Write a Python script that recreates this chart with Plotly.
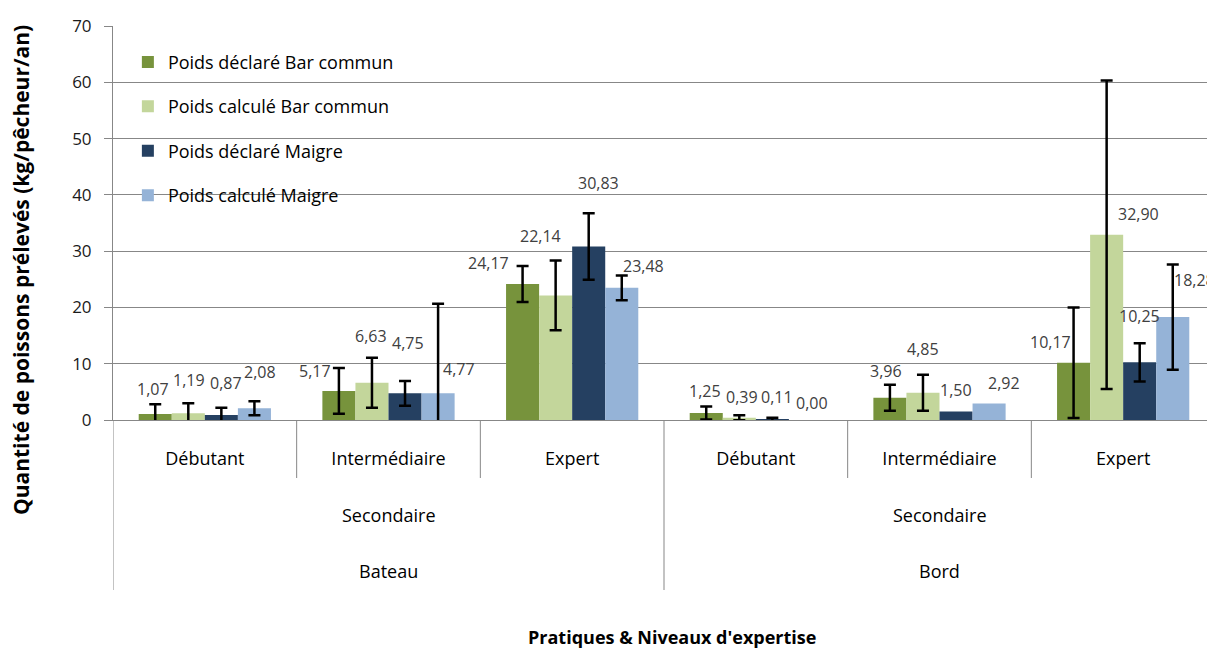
import numpy as np
import plotly.graph_objects as go

# ---------------- data ----------------
categories = ["Bateau|Débutant", "Bateau|Intermédiaire", "Bateau|Expert",
              "Bord|Débutant", "Bord|Intermédiaire", "Bord|Expert"]
level_labels = ["Débutant", "Intermédiaire", "Expert", "Débutant", "Intermédiaire", "Expert"]
sub_labels = ["Secondaire", "Secondaire"]
top_labels = ["Bateau", "Bord"]

series_names = ["Poids déclaré Bar commun", "Poids calculé Bar commun",
                "Poids déclaré Maigre", "Poids calculé Maigre"]
declare_bar = [1.07, 5.17, 24.17, 1.25, 3.96, 10.17]
calcul_bar = [1.19, 6.63, 22.14, 0.39, 4.85, 32.90]
declare_maigre = [0.87, 4.75, 30.83, 0.11, 1.50, 10.25]
calcul_maigre = [2.08, 4.77, 23.48, 0.00, 2.92, 18.28]

err_declare_bar = [1.72, 4.05, 3.2, 1.15, 2.3, 9.8]
err_calcul_bar = [1.8, 4.45, 6.2, 0.45, 3.2, 27.4]
err_declare_maigre = [1.3, 2.2, 5.9, 0.3, np.nan, 3.4]
err_calcul_maigre = [1.25, 15.9, 2.2, np.nan, np.nan, 9.35]

y_title = "Quantité de poissons prélevés (kg/pêcheur/an)"
x_title = "Pratiques & Niveaux d'expertise"

# ---------------- style ----------------
colors = ["#77933C", "#C3D69B", "#254061", "#95B3D7"]
FONT = "'Open Sans', 'Liberation Sans', sans-serif"
GRID = "#878787"
BARGAP = 0.28
# label offsets (pixels) relative to bar top centre, per series / category
label_dx = [[-2, -24, -34, -1, -4, -23],
            [1, -1, -15, 3, 0, 32],
            [5, 3, 10, 5, 0, 0],
            [6, 21, 22, 7, 15, 22]]
label_dy = [[25, 20, 21, 22, 27, 21],
            [33, 47, 59, 21, 44, 21],
            [32, 50, 63, 22, 22, 46],
            [36, 24, 22, 17, 21, 37]]

values = [declare_bar, calcul_bar, declare_maigre, calcul_maigre]
errors = [err_declare_bar, err_calcul_bar, err_declare_maigre, err_calcul_maigre]

fig = go.Figure()
for i, (name, vals, errs) in enumerate(zip(series_names, values, errors)):
    fig.add_trace(go.Bar(
        x=categories, y=vals, name=name, legendgroup=f"g{i}",
        marker=dict(color=colors[i], line=dict(width=0)),
        error_y=dict(type="data", array=np.array(errs, dtype=float), visible=True,
                     color="#000000", thickness=2.5, width=6),
    ))

annotations = []
n = len(series_names)
slot = (1 - BARGAP) / n
for i, vals in enumerate(values):
    for c, v in enumerate(vals):
        annotations.append(dict(
            x=c + (i - (n - 1) / 2) * slot, y=v, xref="x", yref="y",
            text=f"{v:.2f}".replace(".", ","), showarrow=False,
            xshift=label_dx[i][c], yshift=label_dy[i][c],
            font=dict(family=FONT, size=16, color="#404040"),
            xanchor="center", yanchor="middle"))

# page body has an 8px margin; plot area spans page x 113..1215, y 26..420
plot_w = 1102.0
plot_h = 394.0
for k in range(2):
    annotations.append(dict(x=1 + 3 * k, y=-(515 - 420) / plot_h, xref="x", yref="paper",
                            text=sub_labels[k], showarrow=False, yanchor="middle",
                            font=dict(family=FONT, size=18, color="#000000")))
    annotations.append(dict(x=1 + 3 * k, y=-(571 - 420) / plot_h, xref="x", yref="paper",
                            text=top_labels[k], showarrow=False, yanchor="middle",
                            font=dict(family=FONT, size=18, color="#000000")))

annotations.append(dict(x=(672 - 113) / plot_w, y=-(637 - 420) / plot_h, xref="paper", yref="paper",
                        text=f"<b>{x_title}</b>", showarrow=False, yanchor="middle",
                        font=dict(family=FONT, size=18, color="#000000")))
annotations.append(dict(x=-(113 - 21) / plot_w, y=(420 - 270) / plot_h, xref="paper", yref="paper",
                        text=f"<b>{y_title}</b>", showarrow=False, textangle=-90,
                        xanchor="center", yanchor="middle",
                        font=dict(family=FONT, size=21, color="#000000")))

shapes = []
for b in [0.5, 1.5, 3.5, 4.5]:
    shapes.append(dict(type="line", xref="x", yref="paper", x0=b, x1=b, y0=0,
                       y1=-(478 - 420) / plot_h, line=dict(color=GRID, width=1)))
for b in [-0.5, 2.5, 5.5]:
    shapes.append(dict(type="line", xref="x", yref="paper", x0=b, x1=b, y0=0,
                       y1=-(590 - 420) / plot_h, line=dict(color=GRID, width=1)))

fig.update_layout(
    width=1207, height=640,
    margin=dict(l=105, r=0, t=18, b=228, autoexpand=False),
    paper_bgcolor="white", plot_bgcolor="white",
    barmode="group", bargap=BARGAP, bargroupgap=0,
    font=dict(family=FONT, color="#000000"),
    showlegend=True,
    legend=dict(x=0.0135, y=0.955, xanchor="left", yanchor="top",
                bgcolor="rgba(0,0,0,0)", tracegroupgap=18,
                font=dict(family=FONT, size=18, color="#000000")),
    annotations=annotations, shapes=shapes,
)
fig.update_xaxes(
    type="category", tickmode="array", tickvals=categories, ticktext=level_labels,
    range=[-0.5, 5.5], showline=True, linecolor=GRID, linewidth=1,
    ticks="", showgrid=False, ticklabelstandoff=22, automargin=False,
    tickfont=dict(family=FONT, size=18, color="#000000"),
)
fig.update_yaxes(
    range=[0, 70], dtick=10, showgrid=True, gridcolor=GRID, gridwidth=1,
    showline=True, linecolor=GRID, linewidth=1, ticks="outside", ticklen=8,
    tickcolor=GRID, zeroline=False, automargin=False, ticklabelstandoff=9,
    tickfont=dict(family=FONT, size=17, color="#1a1a1a"),
)

fig.write_html("out.html")
